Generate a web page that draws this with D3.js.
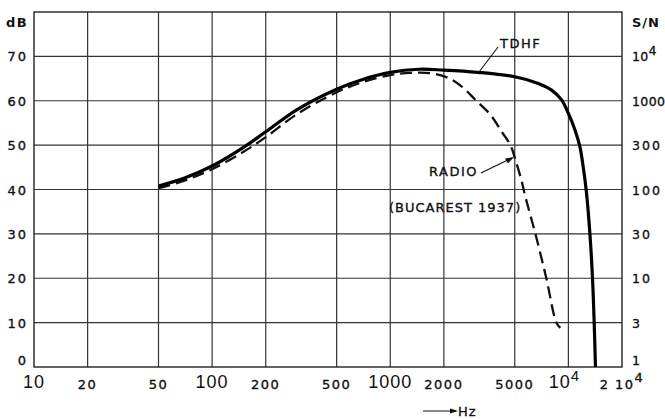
<!DOCTYPE html>
<html>
<head>
<meta charset="utf-8">
<script src="https://cdn.jsdelivr.net/npm/d3@7"></script>
<style>
  body { margin: 0; background: #fff; }
  text { font-family: "DejaVu Sans", sans-serif; fill: #111; }
  text.thick { stroke: #111; stroke-width: 0.35; }
</style>
</head>
<body>
<script>
// tick values / labels
var freqTicks = [10, 20, 50, 100, 200, 500, 1000, 2000, 5000, 10000, 20000];
var freqLabels = ["10", "20", "50", "100", "200", "500", "1000", "2000", "5000", "10^4", "2 10^4"];
var freqBig = [true, false, false, true, false, false, true, false, false, true, false];
var dbTicks = [0, 10, 20, 30, 40, 50, 60, 70];
var snLabels = ["1", "3", "10", "30", "100", "300", "1000", "10^4"];

// TDHF (solid)
var tdhfHz = [50, 70, 100, 150, 200, 300, 500, 700, 1000, 1450, 2000, 3100, 5000, 6780, 8050, 9160, 9990, 10890, 11610, 12110, 12650, 13210, 13660, 13960, 14190];
var tdhfDb = [40.8, 42.6, 45.3, 49.5, 53, 58, 62.6, 64.8, 66.4, 67.1, 66.9, 66.4, 65.4, 63.9, 62.4, 60.2, 57.2, 53.4, 49.6, 45.1, 39.1, 30, 20, 10, 0];

// RADIO (Bucarest 1937, dashed)
var radioHz = [50, 70, 100, 150, 200, 300, 500, 700, 1000, 1300, 1700, 2130, 2520, 3010, 3660, 4210, 4730, 5050, 5450, 5740, 6530, 7520, 8560, 9010];
var radioDb = [40.3, 42, 44.6, 48.5, 51.8, 57, 61.9, 64.2, 65.8, 66.3, 66.2, 65.1, 63.2, 60.2, 56.8, 53.1, 50, 46.6, 42.1, 38.3, 30, 20, 10, 8.8];

var width = 665, height = 419;
var plotL = 34, plotR = 622, plotT = 12, plotB = 367;

var svg = d3.select("body").append("svg")
    .attr("width", width)
    .attr("height", height);

var x = d3.scaleLog().domain([10, 20000]).range([plotL, plotR]);
var y = d3.scaleLinear().domain([0, 80]).range([plotB, plotT]);

// grid
var grid = svg.append("g").attr("stroke", "#333").attr("stroke-width", 1.2);
grid.selectAll("line.v")
  .data(freqTicks.slice(1, -1))
  .enter().append("line")
    .attr("x1", d => x(d)).attr("x2", d => x(d))
    .attr("y1", plotT).attr("y2", plotB);
grid.selectAll("line.h")
  .data(dbTicks.slice(1))
  .enter().append("line")
    .attr("x1", plotL).attr("x2", plotR)
    .attr("y1", d => y(d)).attr("y2", d => y(d));
svg.append("rect")
    .attr("x", plotL).attr("y", plotT)
    .attr("width", plotR - plotL).attr("height", plotB - plotT)
    .attr("fill", "none").attr("stroke", "#222").attr("stroke-width", 1.4);

// helper for labels with a superscript written as a^b
function supText(sel, str, supSize, lift) {
  var parts = str.split("^");
  sel.append("tspan").text(parts[0]);
  if (parts.length > 1) {
    sel.append("tspan").attr("dy", -lift).attr("font-size", supSize).text(parts[1]);
  }
}

// left dB labels
svg.selectAll("text.db")
  .data(dbTicks)
  .enter().append("text")
    .attr("class", "db thick")
    .attr("x", 28)
    .attr("y", d => d === 0 ? y(d) - 2 : y(d) + 5)
    .attr("text-anchor", "end")
    .attr("font-size", 13)
    .attr("letter-spacing", 2)
    .text(d => d);
svg.append("text").attr("x", 6).attr("y", 27)
    .attr("font-size", 13).attr("font-weight", "bold").attr("letter-spacing", 1.5)
    .text("dB");

// right S/N labels
svg.selectAll("text.sn")
  .data(snLabels)
  .enter().append("text")
    .attr("class", "sn thick")
    .attr("x", 632)
    .attr("y", (d, i) => i === 0 ? y(dbTicks[i]) - 2 : y(dbTicks[i]) + 5)
    .attr("font-size", 12.5)
    .attr("letter-spacing", (d) => d.length > 3 ? 0.4 : 2)
    .each(function(d) { supText(d3.select(this), d, 12, 6); });
svg.append("text").attr("x", 632).attr("y", 27)
    .attr("font-size", 13).attr("font-weight", "bold").attr("letter-spacing", 1)
    .text("S/N");

// bottom frequency labels
svg.selectAll("text.hz")
  .data(freqTicks)
  .enter().append("text")
    .attr("class", (d, i) => freqBig[i] ? "hz" : "hz thick")
    .attr("x", (d, i) => x(d) + (i === 9 ? -4 : 0))
    .attr("y", (d, i) => freqBig[i] ? 388 : 389)
    .attr("text-anchor", "middle")
    .style("font-family", (d, i) => freqBig[i] ? "Liberation Sans, sans-serif" : null)
    .attr("font-size", (d, i) => freqBig[i] ? 18 : 13)
    .attr("letter-spacing", (d, i) => freqBig[i] ? 1 : 1.5)
    .each(function(d, i) { supText(d3.select(this), freqLabels[i], freqBig[i] ? 15 : 13, 7); });

// Hz arrow
svg.append("line").attr("x1", 423).attr("x2", 456).attr("y1", 411).attr("y2", 411)
    .attr("stroke", "#111").attr("stroke-width", 1.2);
svg.append("path").attr("d", "M450,408.5 L458,411 L450,413.5 Z").attr("fill", "#111");
svg.append("text").attr("class", "thick").attr("x", 458).attr("y", 416)
    .attr("font-size", 13).attr("letter-spacing", 1).text("Hz");

// curves
var line = d3.line()
    .x(d => x(d[0]))
    .y(d => y(d[1]))
    .curve(d3.curveCatmullRom.alpha(0.5));

svg.append("path")
    .datum(radioHz.map((h, i) => [h, radioDb[i]]))
    .attr("d", line)
    .attr("fill", "none")
    .attr("stroke", "#111")
    .attr("stroke-width", 2.3)
    .attr("stroke-dasharray", "12,6");

svg.append("path")
    .datum(tdhfHz.map((h, i) => [h, tdhfDb[i]]))
    .attr("d", line)
    .attr("fill", "none")
    .attr("stroke", "#000")
    .attr("stroke-width", 3.2);

// annotations
svg.append("line").attr("x1", 498).attr("y1", 47).attr("x2", 479).attr("y2", 72)
    .attr("stroke", "#111").attr("stroke-width", 1.1);
svg.append("text").attr("class", "thick").attr("x", 500).attr("y", 48)
    .attr("font-size", 13).attr("letter-spacing", 1.5).text("TDHF");

svg.append("line").attr("x1", 481).attr("y1", 173).attr("x2", 512).attr("y2", 158)
    .attr("stroke", "#111").attr("stroke-width", 1.1);
svg.append("path").attr("d", "M514,157 L505,158.5 L508,163.5 Z").attr("fill", "#111");
svg.append("text").attr("class", "thick").attr("x", 429).attr("y", 176)
    .attr("font-size", 13).attr("letter-spacing", 1.5).text("RADIO");
svg.append("text").attr("class", "thick").attr("x", 389).attr("y", 212)
    .attr("font-size", 13).attr("letter-spacing", 1).text("(BUCAREST 1937)");
</script>
</body>
</html>
